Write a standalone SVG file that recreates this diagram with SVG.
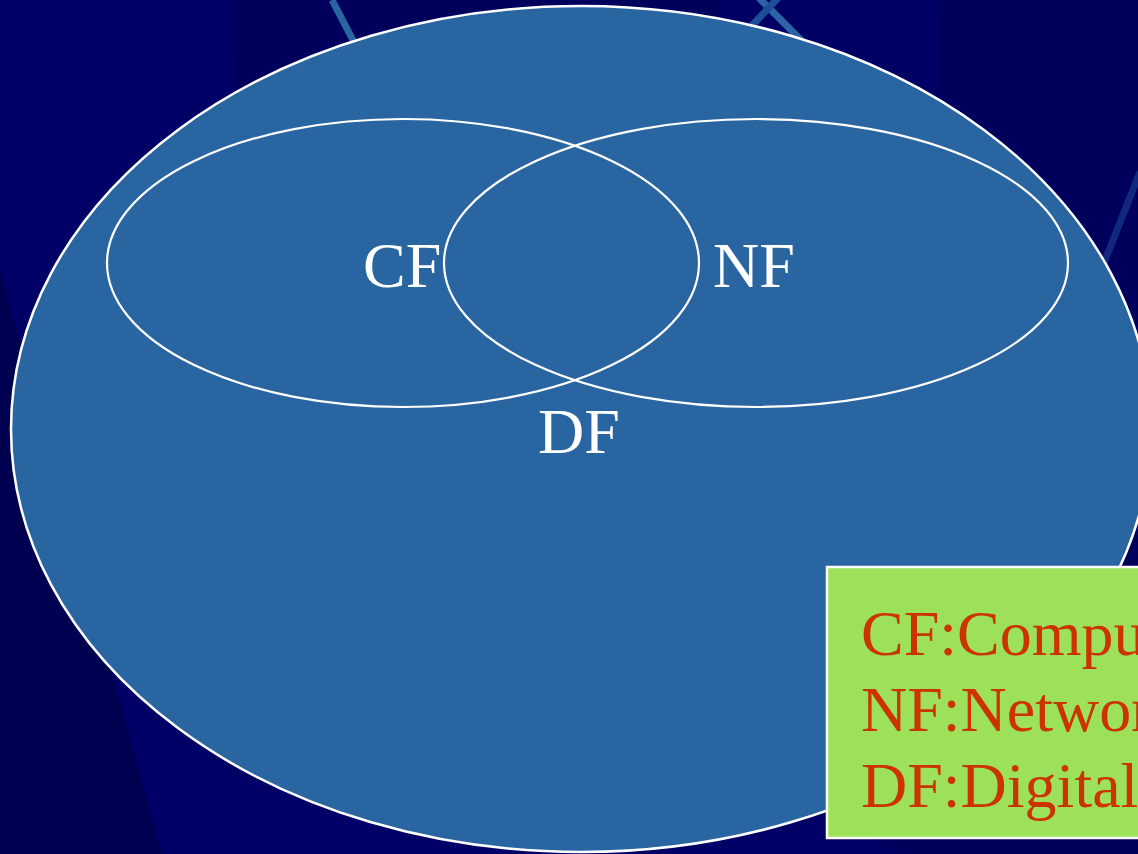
<svg xmlns="http://www.w3.org/2000/svg" width="1138" height="854" viewBox="0 0 1138 854">
  <style>
    .ring { fill: none; stroke: #ffffff; stroke-width: 2.2; }
    .lbl { font-family: "Liberation Serif", "Times New Roman", serif; font-size: 64px; fill: #ffffff; }
    .leg { font-family: "Liberation Serif", "Times New Roman", serif; font-size: 64px; fill: #CC3300; }
    .streak { stroke-width: 7; fill: none; }
  </style>
  <g id="background">
    <rect x="0" y="0" width="1138" height="854" fill="#00005C"/>
    <polygon points="0,0 232,0 240,200 260,500 900,854 0,854" fill="#000066"/>
    <polygon points="722,0 937,0 940,300 720,300" fill="#000064"/>
    <polygon points="0,270 162,854 0,854" fill="#000050"/>
    <line class="streak" x1="332" y1="0" x2="356" y2="46" stroke="#2965A1"/>
    <line class="streak" x1="759" y1="-2" x2="803" y2="42" stroke="#2B63A5"/>
    <line class="streak" x1="778" y1="-2" x2="744" y2="34" stroke="#1F4E98"/>
    <line class="streak" x1="1140" y1="172" x2="1102" y2="268" stroke="#10297f"/>
  </g>
  <g id="node-DF">
    <ellipse cx="581" cy="429" rx="570" ry="423" fill="#2965A1" stroke="#ffffff" stroke-width="2.5"/>
    <text class="lbl" x="538" y="453">DF</text>
  </g>
  <g id="node-CF">
    <ellipse class="ring" cx="403" cy="263" rx="296" ry="144"/>
    <text class="lbl" x="363" y="287">CF</text>
  </g>
  <g id="node-NF">
    <ellipse class="ring" cx="756" cy="263" rx="312" ry="144"/>
    <text class="lbl" x="713" y="287">NF</text>
  </g>
  <g id="connectors"/>
  <g id="legend">
    <rect x="827" y="567" width="330" height="271" fill="#9DE05A" stroke="#ffffff" stroke-width="2.5"/>
    <text class="leg" x="861" y="655">CF:Compu</text>
    <text class="leg" x="861" y="731">NF:Networ</text>
    <text class="leg" x="861" y="807">DF:Digital</text>
  </g>
</svg>
